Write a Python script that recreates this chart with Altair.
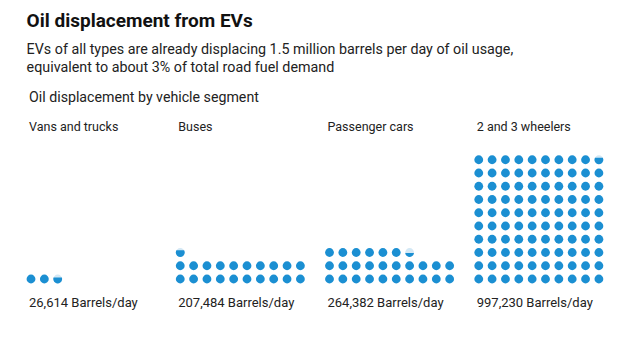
import math
import altair as alt
import pandas as pd

# ---- data ----
segments = ["Vans and trucks", "Buses", "Passenger cars", "2 and 3 wheelers"]
barrels = [26614, 207484, 264382, 997230]
barrels_per_dot = 10000
dots_per_row = 10

TEXT = "#222222"
BLUE = "#1b8fd2"
PALE = "#d3e8f5"
FONT = "Roboto"

PANEL_STEP = 11.18      # panel spacing in dot units
X_DOMAIN = [-0.15, 44.57]
Y_DOMAIN = [-3.698, 14.415]
W, H = 597, 240


def cap_path(f):
    """Circle filled from the bottom up to fraction f of its height (unit box -1..1)."""
    c = 1 - 2 * f
    w = math.sqrt(max(0.0, 1 - c * c))
    large = 1 if c < 0 else 0
    return f"M{-w:.4f},{c:.4f}A1,1 0 {large} 0 {w:.4f},{c:.4f}Z"


rows = []
for p, (seg, val) in enumerate(zip(segments, barrels)):
    n = val / barrels_per_dot
    full = int(math.floor(n))
    frac = n - full
    total = full + (1 if frac > 1e-9 else 0)
    for i in range(total):
        f = 1.0 if i < full else frac
        rows.append({
            "segment": seg,
            "xu": p * PANEL_STEP + (i % dots_per_row),
            "row": i // dots_per_row,
            "fill": f,
            "shape": "circle" if f >= 1 else cap_path(f),
        })
dots = pd.DataFrame(rows)

labels = pd.DataFrame({
    "segment": segments,
    "xu": [p * PANEL_STEP - 0.15 for p in range(len(segments))],
    "label": [f"{v:,} Barrels/day" for v in barrels],
})

xs = alt.Scale(domain=X_DOMAIN, nice=False, zero=False)
ys = alt.Scale(domain=Y_DOMAIN, nice=False, zero=False)

base = alt.Chart(dots).encode(
    x=alt.X("xu:Q", scale=xs, axis=None),
    y=alt.Y("row:Q", scale=ys, axis=None),
)

pale = base.transform_filter("datum.fill < 1").mark_point(
    filled=True, shape="circle", size=78, color=PALE, opacity=1, strokeWidth=0
)

filled = base.mark_point(filled=True, size=78, color=BLUE, opacity=1, strokeWidth=0).encode(
    shape=alt.Shape("shape:N", scale=None, legend=None)
)

seg_names = alt.Chart(labels).mark_text(
    align="left", baseline="middle", font=FONT, fontSize=12.5, color=TEXT
).encode(
    x=alt.X("xu:Q", scale=xs, axis=None),
    y=alt.value(39),
    text="segment:N",
)

val_labels = alt.Chart(labels).mark_text(
    align="left", baseline="middle", font=FONT, fontSize=13, color=TEXT
).encode(
    x=alt.X("xu:Q", scale=xs, axis=None),
    y=alt.value(215),
    text="label:N",
)

section = alt.Chart(pd.DataFrame({"t": ["Oil displacement by vehicle segment"]})).mark_text(
    align="left", baseline="middle", font=FONT, fontSize=14.2, color=TEXT
).encode(
    x=alt.value(0),
    y=alt.value(10),
    text="t:N",
)

chart = alt.layer(pale, filled, seg_names, val_labels, section).properties(
    width=W,
    height=H,
    background="white",
    autosize=alt.AutoSizeParams(type="none"),
    padding={"left": 21, "top": 80, "right": 0, "bottom": 0},
    title=alt.TitleParams(
        text="Oil displacement from EVs",
        subtitle=[
            "EVs of all types are already displacing 1.5 million barrels per day of oil usage,",
            "equivalent to about 3% of total road fuel demand",
        ],
        anchor="start",
        font=FONT,
        fontSize=19,
        fontWeight="bold",
        color="#111111",
        subtitleFont=FONT,
        subtitleFontSize=14.3,
        subtitleColor=TEXT,
        subtitleLineHeight=17.5,
        subtitlePadding=12,
        offset=13,
    ),
).configure_view(stroke=None)

chart.save("out.html", embed_options={"renderer": "svg", "actions": False})
